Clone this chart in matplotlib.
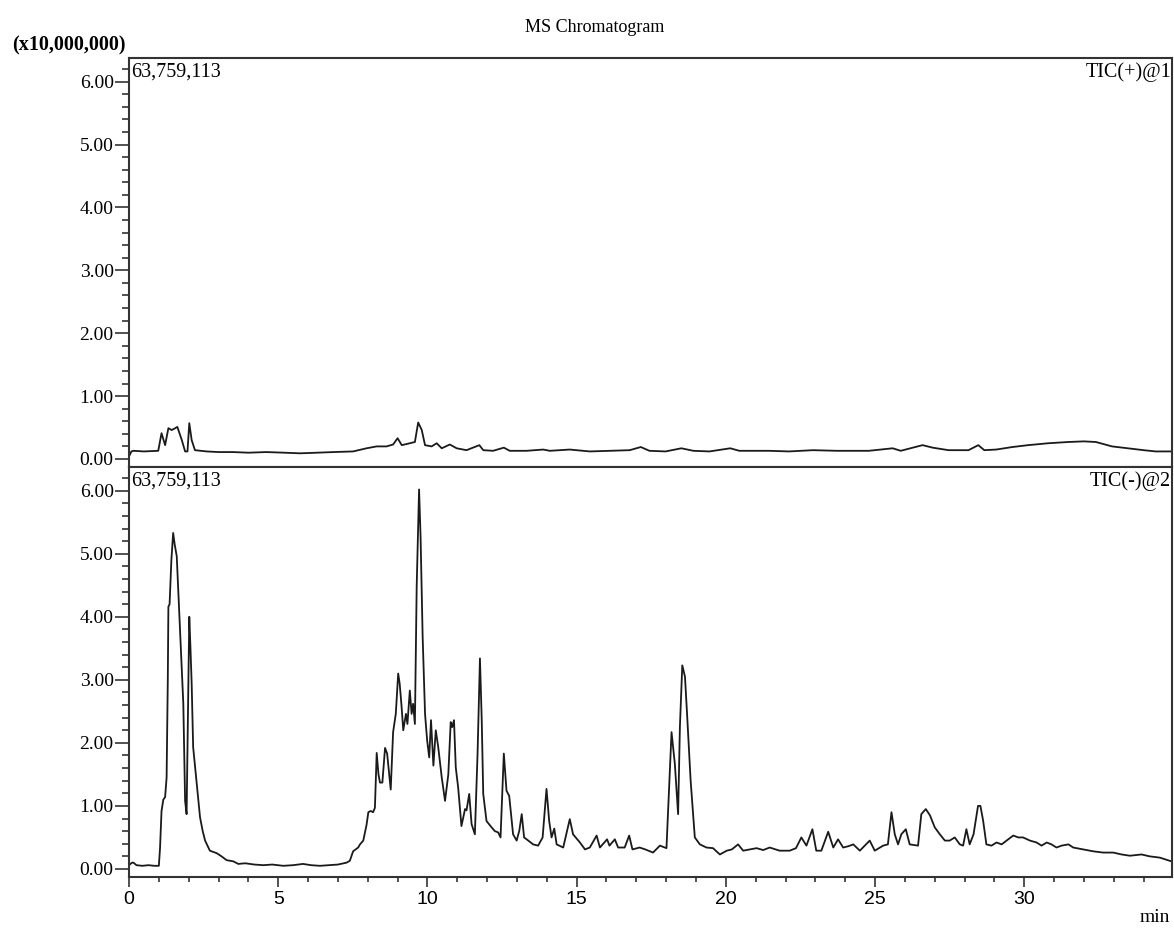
import numpy as np
import matplotlib.pyplot as plt
from matplotlib.ticker import MultipleLocator, FormatStrFormatter

# values, intensity in units of 1e7
max_intensity = 6.3759113

# TIC(+)@1 trace
pos_time = [0.00, 0.08, 0.15, 0.50, 0.98, 1.09, 1.21, 1.32, 1.43, 1.55, 1.62, 1.77, 1.88, 1.96,
            2.02, 2.10, 2.21, 2.60, 3.00, 3.49, 4.00, 4.60, 5.20, 5.73, 6.30, 6.85, 7.51, 7.96,
            8.30, 8.63, 8.85, 9.00, 9.14, 9.41, 9.58, 9.69, 9.81, 9.92, 10.14, 10.31, 10.48,
            10.75, 10.98, 11.31, 11.74, 11.87, 12.20, 12.56, 12.76, 13.32, 13.88, 14.10, 14.77,
            15.44, 16.11, 16.78, 17.15, 17.44, 17.98, 18.51, 18.91, 19.45, 20.15, 20.45, 21.45,
            22.12, 22.92, 23.72, 24.79, 25.59, 25.86, 26.59, 26.93, 27.46, 28.13, 28.46, 28.66,
            29.06, 29.60, 30.13, 30.80, 31.47, 32.00, 32.40, 32.94, 33.47, 34.00, 34.40, 34.95]
pos_val = [0.04, 0.12, 0.13, 0.12, 0.13, 0.41, 0.22, 0.49, 0.46, 0.49, 0.51, 0.30, 0.12, 0.12,
           0.57, 0.30, 0.14, 0.12, 0.11, 0.11, 0.10, 0.11, 0.10, 0.09, 0.10, 0.11, 0.12, 0.17,
           0.20, 0.20, 0.23, 0.33, 0.22, 0.25, 0.27, 0.58, 0.46, 0.22, 0.20, 0.25, 0.17,
           0.23, 0.17, 0.14, 0.22, 0.14, 0.13, 0.18, 0.13, 0.13, 0.15, 0.13, 0.15,
           0.12, 0.13, 0.14, 0.19, 0.13, 0.12, 0.17, 0.13, 0.12, 0.17, 0.13, 0.13,
           0.12, 0.14, 0.13, 0.13, 0.17, 0.13, 0.22, 0.18, 0.14, 0.14, 0.22, 0.14,
           0.15, 0.19, 0.22, 0.25, 0.27, 0.28, 0.27, 0.20, 0.17, 0.14, 0.12, 0.12]

# TIC(-)@2 trace
neg_time = [0.00, 0.10, 0.15, 0.25, 0.45, 0.65, 0.85, 1.00, 1.04, 1.09, 1.15, 1.21, 1.26, 1.30,
            1.32, 1.36, 1.42, 1.48, 1.53, 1.60, 1.71, 1.82, 1.88, 1.93, 1.99, 2.02, 2.06, 2.10,
            2.15, 2.27, 2.38, 2.47, 2.55, 2.63, 2.71, 2.94, 3.10, 3.27, 3.50, 3.66, 3.90, 4.20,
            4.50, 4.80, 5.17, 5.50, 5.83, 6.10, 6.40, 6.70, 7.00, 7.29, 7.40, 7.51, 7.68, 7.74,
            7.85, 7.96, 8.02, 8.10, 8.18, 8.24, 8.30, 8.36, 8.41, 8.49, 8.58, 8.65, 8.72, 8.77,
            8.85, 8.94, 9.02, 9.07, 9.13, 9.19, 9.28, 9.33, 9.41, 9.47, 9.52, 9.58, 9.64, 9.72,
            9.77, 9.84, 9.92, 9.99, 10.06, 10.12, 10.20, 10.28, 10.36, 10.48, 10.59, 10.70,
            10.78, 10.83, 10.89, 10.95, 11.03, 11.14, 11.26, 11.31, 11.40, 11.48, 11.59, 11.68,
            11.76, 11.82, 11.87, 11.98, 12.15, 12.26, 12.37, 12.45, 12.56, 12.65, 12.74, 12.87,
            12.99, 13.08, 13.16, 13.24, 13.38, 13.54, 13.71, 13.86, 13.99, 14.08, 14.16, 14.25,
            14.33, 14.55, 14.77, 14.88, 15.11, 15.28, 15.44, 15.67, 15.78, 16.02, 16.10, 16.28,
            16.39, 16.61, 16.76, 16.87, 17.11, 17.30, 17.56, 17.79, 18.01, 18.10, 18.18, 18.29,
            18.40, 18.46, 18.54, 18.63, 18.70, 18.82, 18.96, 19.13, 19.35, 19.57, 19.80, 20.03,
            20.20, 20.41, 20.58, 20.80, 21.03, 21.25, 21.47, 21.80, 22.14, 22.35, 22.53, 22.70,
            22.90, 23.03, 23.20, 23.43, 23.60, 23.76, 23.93, 24.10, 24.27, 24.49, 24.82, 24.99,
            25.27, 25.43, 25.55, 25.66, 25.77, 25.88, 26.03, 26.16, 26.44, 26.55, 26.70, 26.84,
            27.00, 27.17, 27.34, 27.50, 27.67, 27.84, 27.95, 28.06, 28.17, 28.30, 28.45, 28.53,
            28.62, 28.73, 28.90, 29.07, 29.24, 29.46, 29.63, 29.80, 29.96, 30.19, 30.41, 30.58,
            30.75, 30.91, 31.08, 31.25, 31.48, 31.64, 31.98, 32.31, 32.64, 32.98, 33.26, 33.54,
            33.93, 34.20, 34.54, 34.87, 34.95]
neg_val = [0.06, 0.10, 0.10, 0.06, 0.05, 0.06, 0.05, 0.05, 0.33, 0.92, 1.10, 1.14, 1.45, 3.00,
           4.16, 4.20, 4.90, 5.33, 5.15, 4.96, 3.79, 2.62, 1.08, 0.87, 2.89, 4.00, 3.50, 2.94,
           1.93, 1.35, 0.82, 0.60, 0.45, 0.37, 0.29, 0.25, 0.20, 0.14, 0.12, 0.08, 0.09, 0.07,
           0.06, 0.07, 0.05, 0.06, 0.08, 0.06, 0.05, 0.06, 0.07, 0.10, 0.13, 0.28, 0.34, 0.39,
           0.45, 0.70, 0.90, 0.92, 0.90, 0.97, 1.84, 1.50, 1.37, 1.37, 1.92, 1.83, 1.50, 1.26,
           2.17, 2.46, 3.10, 2.94, 2.60, 2.20, 2.46, 2.30, 2.83, 2.46, 2.62, 2.30, 4.48, 6.02,
           5.28, 3.68, 2.46, 2.04, 1.77, 2.36, 1.64, 2.20, 1.94, 1.45, 1.08, 1.50,
           2.33, 2.25, 2.36, 1.61, 1.29, 0.68, 0.95, 0.93, 1.19, 0.71, 0.55, 1.83,
           3.34, 2.36, 1.19, 0.76, 0.66, 0.60, 0.58, 0.50, 1.83, 1.24, 1.16, 0.55,
           0.45, 0.61, 0.87, 0.50, 0.45, 0.39, 0.37, 0.50, 1.27, 0.76, 0.50, 0.64,
           0.39, 0.34, 0.79, 0.55, 0.42, 0.31, 0.34, 0.53, 0.34, 0.47, 0.37, 0.47,
           0.34, 0.34, 0.53, 0.31, 0.34, 0.31, 0.26, 0.37, 0.33, 1.29, 2.17, 1.67,
           0.87, 2.25, 3.23, 3.05, 2.46, 1.40, 0.50, 0.39, 0.34, 0.33, 0.23, 0.29,
           0.31, 0.39, 0.29, 0.31, 0.33, 0.30, 0.34, 0.29, 0.29, 0.33, 0.50, 0.37,
           0.63, 0.29, 0.29, 0.59, 0.34, 0.47, 0.34, 0.36, 0.39, 0.29, 0.45, 0.29,
           0.37, 0.39, 0.90, 0.55, 0.39, 0.55, 0.63, 0.39, 0.37, 0.87, 0.95, 0.85,
           0.66, 0.55, 0.45, 0.45, 0.50, 0.39, 0.37, 0.63, 0.39, 0.55, 1.00, 1.00,
           0.77, 0.39, 0.37, 0.42, 0.39, 0.47, 0.53, 0.50, 0.50, 0.45, 0.42, 0.37,
           0.42, 0.39, 0.34, 0.37, 0.39, 0.34, 0.31, 0.28, 0.26, 0.26, 0.23, 0.21,
           0.23, 0.20, 0.18, 0.13, 0.12]

plt.rcParams['font.family'] = ['Liberation Serif', 'DejaVu Serif']

fig = plt.figure(figsize=(11.74, 9.32), dpi=100)
W, H = 1174, 932
left, right = 129 / W, 1172 / W
ax1 = fig.add_axes([left, 1 - 467 / H, right - left, (467 - 58) / H])
ax2 = fig.add_axes([left, 1 - 877 / H, right - left, (877 - 467) / H], sharex=ax1)

line_col = '#1a1a1a'
ax1.plot(pos_time, pos_val, color=line_col, lw=1.3)
ax2.plot(neg_time, neg_val, color=line_col, lw=1.3)

for ax, lab in [(ax1, 'TIC(+)@1'), (ax2, 'TIC(-)@2')]:
    ax.set_ylim(-0.02 * max_intensity, max_intensity)
    ax.set_xlim(0, 34.95)
    ax.yaxis.set_major_locator(MultipleLocator(1.0))
    ax.yaxis.set_minor_locator(MultipleLocator(0.2))
    ax.yaxis.set_major_formatter(FormatStrFormatter('%.2f'))
    ax.tick_params(axis='y', which='major', length=10, width=1.1, pad=1,
                   labelsize=14, color='#222222')
    ax.tick_params(axis='y', which='minor', length=5, width=1.1, color='#222222')
    for s in ax.spines.values():
        s.set_color('#333333')
        s.set_linewidth(1.5)
    ax.text(0.002, 0.99, '{:,}'.format(int(round(max_intensity * 1e7))),
            transform=ax.transAxes, ha='left', va='top', fontsize=14.5)
    ax.text(0.999, 0.99, lab, transform=ax.transAxes, ha='right', va='top', fontsize=14.5)

ax1.tick_params(axis='x', which='both', bottom=False, labelbottom=False)
ax2.xaxis.set_major_locator(MultipleLocator(5))
ax2.xaxis.set_minor_locator(MultipleLocator(1))
ax2.tick_params(axis='x', which='major', length=7, width=1.1, pad=3, color='#222222')
ax2.tick_params(axis='x', which='minor', length=3.6, width=1.1, color='#222222')
for t in ax2.get_xticklabels():
    t.set_fontfamily('Liberation Sans')
    t.set_fontsize(14)

fig.text(595 / W, 1 - 27 / H, 'MS Chromatogram', ha='center', va='center', fontsize=13)
fig.text(12 / W, 1 - 45 / H, '(x10,000,000)', ha='left', va='center',
         fontsize=14.5, fontweight='bold')
fig.text(1170 / W, 1 - 918 / H, 'min', ha='right', va='center', fontsize=14)

fig.savefig('out.png', dpi=100)
